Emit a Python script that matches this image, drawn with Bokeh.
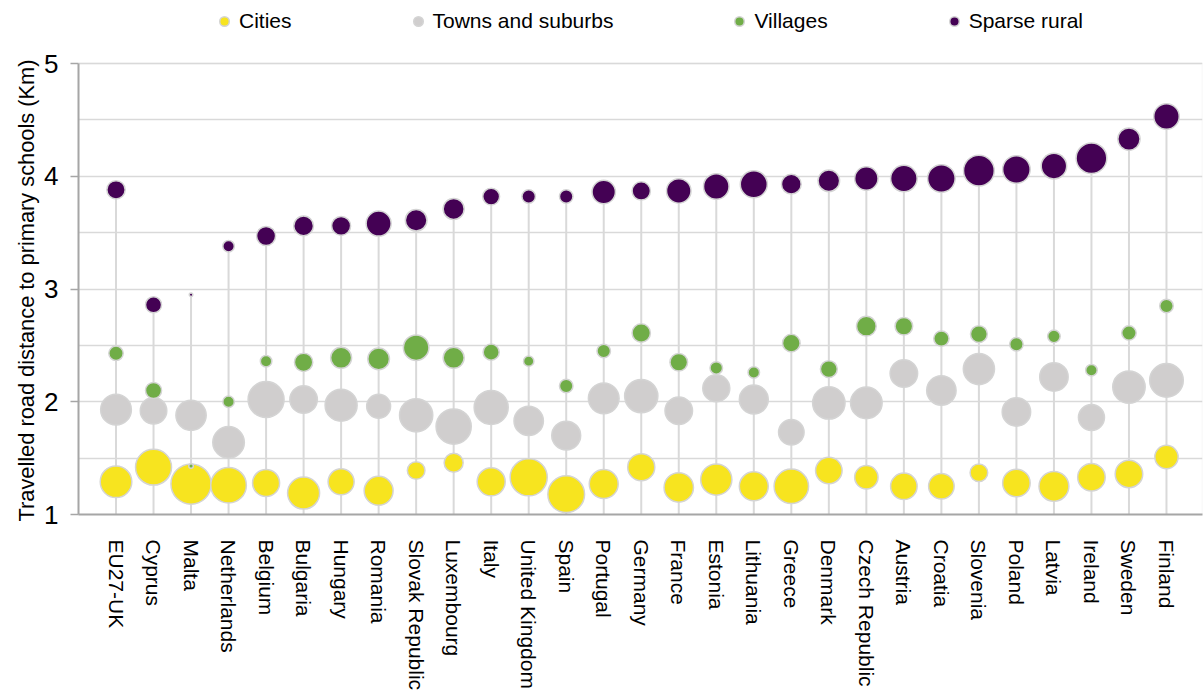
import numpy as np
from bokeh.plotting import figure
from bokeh.models import (Range1d, FixedTicker, Legend, LegendItem, ColumnDataSource,
                          BoxAnnotation, Title)
from bokeh.embed import file_html
from bokeh.resources import INLINE

countries = ["EU27-UK", "Cyprus", "Malta", "Netherlands", "Belgium", "Bulgaria", "Hungary",
             "Romania", "Slovak Republic", "Luxembourg", "Italy", "United Kingdom", "Spain",
             "Portugal", "Germany", "France", "Estonia", "Lithuania", "Greece", "Denmark",
             "Czech Republic", "Austria", "Croatia", "Slovenia", "Poland", "Latvia", "Ireland",
             "Sweden", "Finland"]

# travelled road distance (km)
cities_km = [1.29, 1.42, 1.27, 1.26, 1.28, 1.19, 1.29, 1.21, 1.39, 1.46, 1.29, 1.33, 1.18, 1.27, 1.42,
             1.24, 1.31, 1.25, 1.25, 1.39, 1.33, 1.25, 1.25, 1.37, 1.28, 1.25, 1.33, 1.36, 1.51]
towns_km = [1.93, 1.92, 1.88, 1.64, 2.02, 2.02, 1.97, 1.96, 1.88, 1.78, 1.95, 1.83, 1.70, 2.03, 2.05,
            1.92, 2.12, 2.02, 1.73, 1.99, 1.99, 2.25, 2.10, 2.29, 1.91, 2.22, 1.86, 2.13, 2.19]
villages_km = [2.43, 2.10, 1.43, 2.00, 2.36, 2.35, 2.39, 2.38, 2.48, 2.39, 2.44, 2.36, 2.14, 2.45, 2.61,
               2.35, 2.30, 2.26, 2.52, 2.29, 2.67, 2.67, 2.56, 2.60, 2.51, 2.58, 2.28, 2.61, 2.85]
sparse_km = [3.88, 2.86, 2.95, 3.38, 3.47, 3.56, 3.56, 3.58, 3.61, 3.71, 3.82, 3.82, 3.82, 3.86, 3.87,
             3.87, 3.91, 3.93, 3.93, 3.96, 3.98, 3.98, 3.98, 4.05, 4.06, 4.09, 4.16, 4.33, 4.53]

# population share (%) -> bubble area
cities_share = [39, 50, 62, 49, 29, 40, 27, 33, 13, 15, 31, 53, 52, 33, 29, 34, 38, 33, 46, 28,
                22, 28, 26, 13, 30, 35, 30, 30, 22]
towns_share = [37, 28, 36, 39, 50, 30, 40, 23, 43, 48, 45, 34, 33, 37, 43, 30, 29, 33, 26, 41,
               39, 30, 34, 38, 32, 32, 27, 41, 44]
villages_share = [9, 11, 1.3, 6, 6, 14, 18, 19, 26, 18, 11, 5, 8, 8, 14, 13, 7, 6, 13, 12,
                  16, 13, 10, 12, 8, 7, 6, 9, 8]
sparse_share = [14, 11, 0.9, 6, 15, 16, 15, 25, 19, 18, 12, 8, 8, 22, 14, 24, 26, 29, 16, 19,
                22, 28, 30, 37, 30, 26, 37, 20, 26]

series_names = ["Cities", "Towns and suburbs", "Villages", "Sparse rural"]
series_colors = ["#F7E41F", "#D0CECE", "#70AD47", "#440154"]
y_ticks = [1, 2, 3, 4, 5]
y_title = "Travelled road distance to primary schools (Km)"

FONT = "Liberation Sans"
n = len(countries)
idx = np.arange(1, n + 1)
y_lo, y_hi = y_ticks[0], y_ticks[-1]

# frame extends to top of canvas so the legend (inside the frame) sits above the value 5
p = figure(width=1203, height=695, x_range=Range1d(0, 29.96), y_range=Range1d(y_lo, 5.559),
           output_backend="svg", toolbar_location=None,
           min_border_left=78, min_border_right=1, min_border_top=0, min_border_bottom=181)
p.background_fill_color = "white"
p.border_fill_color = "white"
p.outline_line_color = None

# plot-area border (1..5)
p.add_layout(BoxAnnotation(left=p.x_range.start, right=p.x_range.end, bottom=y_lo, top=y_hi,
                           fill_alpha=0, line_color="#D9D9D9", line_width=1.5, level="underlay"))

# drop lines
p.segment(x0=idx, y0=[y_lo] * n, x1=idx, y1=sparse_km,
          line_color="#D9D9D9", line_width=2)

renderers = []
for vals, shares, color in zip([cities_km, towns_km, villages_km, sparse_km],
                               [cities_share, towns_share, villages_share, sparse_share],
                               series_colors):
    src = ColumnDataSource(dict(x=idx, y=vals,
                                s=5.3 * np.sqrt(np.array(shares, dtype=float)) - 1.5))
    r = p.scatter("x", "y", size="s", source=src, fill_color=color,
                  line_color="#D4D4D4", line_width=1.5)
    renderers.append(r)

legend = Legend(items=[LegendItem(label=nm, renderers=[r]) for r, nm in zip(renderers, series_names)],
                location=(134, 481), orientation="horizontal", padding=0, margin=0, spacing=114,
                border_line_color=None, background_fill_alpha=0,
                label_text_font=FONT, label_text_font_size="21px", label_text_color="black",
                glyph_width=24, glyph_height=24, label_standoff=3, label_height=24)
p.add_layout(legend, "center")

# grid
p.xgrid.visible = False
p.ygrid.ticker = FixedTicker(ticks=[1.5, 2, 2.5, 3, 3.5, 4, 4.5, 5])
p.ygrid.grid_line_color = "#D9D9D9"
p.ygrid.grid_line_width = 1.5

# y axis
p.yaxis.ticker = FixedTicker(ticks=y_ticks)
p.yaxis.bounds = (y_lo, y_hi)
p.yaxis.major_label_text_font = FONT
p.yaxis.major_label_text_font_size = "26px"
p.yaxis.major_label_text_color = "black"
p.yaxis.major_label_standoff = 12
p.yaxis.axis_line_color = "#A6A6A6"
p.yaxis.axis_line_width = 2
p.yaxis.major_tick_line_color = "#A6A6A6"
p.yaxis.major_tick_line_width = 1.5
p.yaxis.major_tick_out = 8
p.yaxis.major_tick_in = 0
p.yaxis.minor_tick_line_color = None

# y axis title, starting from the bottom of the axis
p.add_layout(Title(text=y_title, align="left", offset=-7, standoff=6,
                   text_font=FONT, text_font_size="21.8px", text_font_style="normal",
                   text_color="black"), "left")

# x axis
p.xaxis.ticker = FixedTicker(ticks=[int(i) for i in idx])
p.xaxis.major_label_overrides = {int(i): c for i, c in zip(idx, countries)}
p.xaxis.major_label_orientation = "vertical"
p.xaxis.major_label_text_font = FONT
p.xaxis.major_label_text_font_size = "21px"
p.xaxis.major_label_text_color = "black"
p.xaxis.major_label_standoff = 25
p.xaxis.axis_line_color = "#A6A6A6"
p.xaxis.axis_line_width = 2
p.xaxis.major_tick_line_color = None
p.xaxis.major_tick_out = 0
p.xaxis.major_tick_in = 0
p.xaxis.minor_tick_line_color = None

open("out.html", "w").write(file_html(p, INLINE))
